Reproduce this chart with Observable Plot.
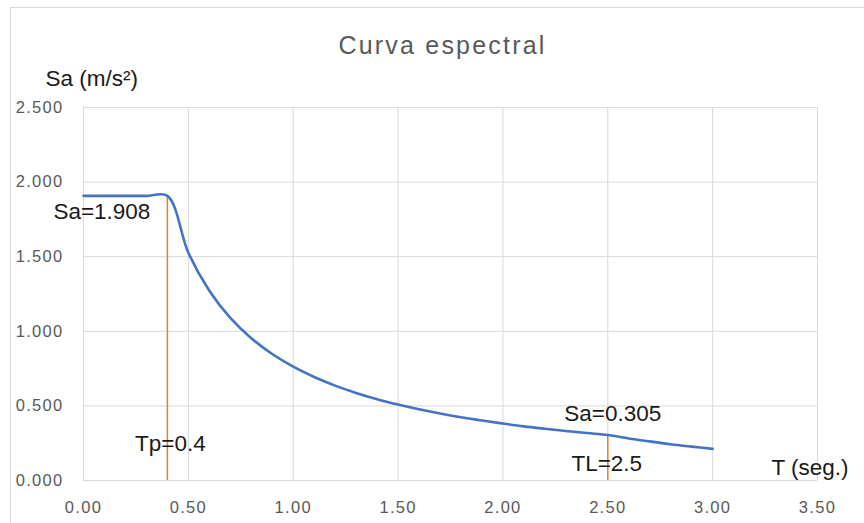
<!DOCTYPE html>
<html>
<head>
<meta charset="utf-8">
<script src="https://cdn.jsdelivr.net/npm/d3@7"></script>
<script src="https://cdn.jsdelivr.net/npm/@observablehq/plot@0.6"></script>
<style>
  html, body { margin: 0; padding: 0; background: #fff; overflow: hidden; width: 864px; height: 523px; }
  #frame { position: absolute; left: 10px; top: 7px; width: 900px; height: 600px; border: 1px solid #d9d9d9; box-sizing: border-box; }
  #chart { position: absolute; left: 0; top: 0; }
</style>
</head>
<body>
<div id="frame"></div>
<div id="chart"></div>
<script>
// Periods T (s)
const periods = [0, 0.1, 0.2, 0.3, 0.4, 0.5, 0.6, 0.7, 0.8, 0.9, 1.0, 1.1, 1.2, 1.3, 1.4, 1.5, 1.6, 1.7, 1.8, 1.9, 2.0, 2.1, 2.2, 2.3, 2.4, 2.5, 2.6, 2.7, 2.8, 2.9, 3.0];
// Spectral acceleration Sa (m/s²)
const accel = [1.908, 1.908, 1.908, 1.908, 1.908, 1.526, 1.272, 1.090, 0.954, 0.848, 0.763, 0.694, 0.636, 0.587, 0.545, 0.509, 0.477, 0.449, 0.424, 0.402, 0.382, 0.363, 0.347, 0.332, 0.318, 0.305, 0.282, 0.262, 0.243, 0.227, 0.212];
// Marked periods (Tp, TL) and their Sa
const markT = [0.4, 2.5];
const markSa = [1.908, 0.305];
const markPeriodLabels = ["Tp=0.4", "TL=2.5"];
const markSaLabels = ["Sa=1.908", "Sa=0.305"];
// Axis ticks
const xTicks = [0, 0.5, 1.0, 1.5, 2.0, 2.5, 3.0, 3.5];
const yTicks = [0, 0.5, 1.0, 1.5, 2.0, 2.5];
const titleText = "Curva espectral";
const xTitle = "T (seg.)";
const yTitle = "Sa (m/s²)";

const curve = periods.map((t, i) => ({T: t, Sa: accel[i]}));
const marks = markT.map((t, i) => ({T: t, Sa: markSa[i], pl: markPeriodLabels[i], sl: markSaLabels[i]}));

const font = "'Liberation Sans', 'DejaVu Sans', sans-serif";
const annFill = "#1a1a1a";
const annSize = 22.5;

const chart = Plot.plot({
  width: 864,
  height: 523,
  marginLeft: 83,
  marginRight: 47,
  marginTop: 107,
  marginBottom: 43,
  style: {fontFamily: font, background: "transparent", overflow: "visible"},
  x: {domain: [0, 3.5], ticks: xTicks, tickFormat: d3.format(".2f")},
  y: {domain: [0, 2.5], ticks: yTicks, tickFormat: d3.format(".3f")},
  marks: [
    Plot.ruleX(xTicks, {stroke: "#d9d9d9", strokeWidth: 1, strokeOpacity: 1}),
    Plot.ruleY(yTicks, {stroke: "#d9d9d9", strokeWidth: 1, strokeOpacity: 1}),
    Plot.axisX({ticks: xTicks, tickFormat: d3.format(".2f"), tickSize: 0, tickPadding: 21, fontSize: 16.5, fill: "#595959", label: null}),
    Plot.axisY({ticks: yTicks, tickFormat: d3.format(".3f"), tickSize: 0, tickPadding: 20, fontSize: 16.5, fill: "#595959", label: null}),
    Plot.ruleX(marks, {x: "T", y1: 0, y2: "Sa", stroke: "#ED7D31", strokeWidth: 1.5}),
    Plot.line(curve, {x: "T", y: "Sa", stroke: "#4472C4", strokeWidth: 2.6, curve: "catmull-rom"}),
    Plot.text([marks[0]], {x: "T", y: "Sa", text: "sl", textAnchor: "end", lineAnchor: "middle", dx: -17, dy: 16, fontSize: annSize, fill: annFill}),
    Plot.text([marks[1]], {x: "T", y: "Sa", text: "sl", textAnchor: "middle", lineAnchor: "middle", dx: 5, dy: -21, fontSize: annSize, fill: annFill}),
    Plot.text([marks[0]], {x: "T", y: 0, text: "pl", textAnchor: "middle", lineAnchor: "middle", dx: 3, dy: -37, fontSize: annSize, fill: annFill}),
    Plot.text([marks[1]], {x: "T", y: 0, text: "pl", textAnchor: "middle", lineAnchor: "middle", dx: -1, dy: -17, fontSize: annSize, fill: annFill}),
    Plot.text([titleText], {frameAnchor: "top", text: d => d, lineAnchor: "middle", dx: -8, dy: -62, fontSize: 25, fill: "#595959"}),
    Plot.text([xTitle], {frameAnchor: "bottom-right", text: d => d, textAnchor: "end", lineAnchor: "middle", dx: 31, dy: -13, fontSize: annSize, fill: annFill}),
    Plot.text([yTitle], {frameAnchor: "top-left", text: d => d, textAnchor: "start", lineAnchor: "middle", dx: -38, dy: -29, fontSize: annSize, fill: annFill})
  ]
});
const svg = d3.select(chart);
svg.selectAll("g[aria-label='x-axis tick label'] text, g[aria-label='y-axis tick label'] text").style("letter-spacing", "1.3px");
svg.selectAll("text").filter(function() { return this.textContent === titleText; }).style("letter-spacing", "2.2px");
document.getElementById("chart").appendChild(chart);
</script>
</body>
</html>
